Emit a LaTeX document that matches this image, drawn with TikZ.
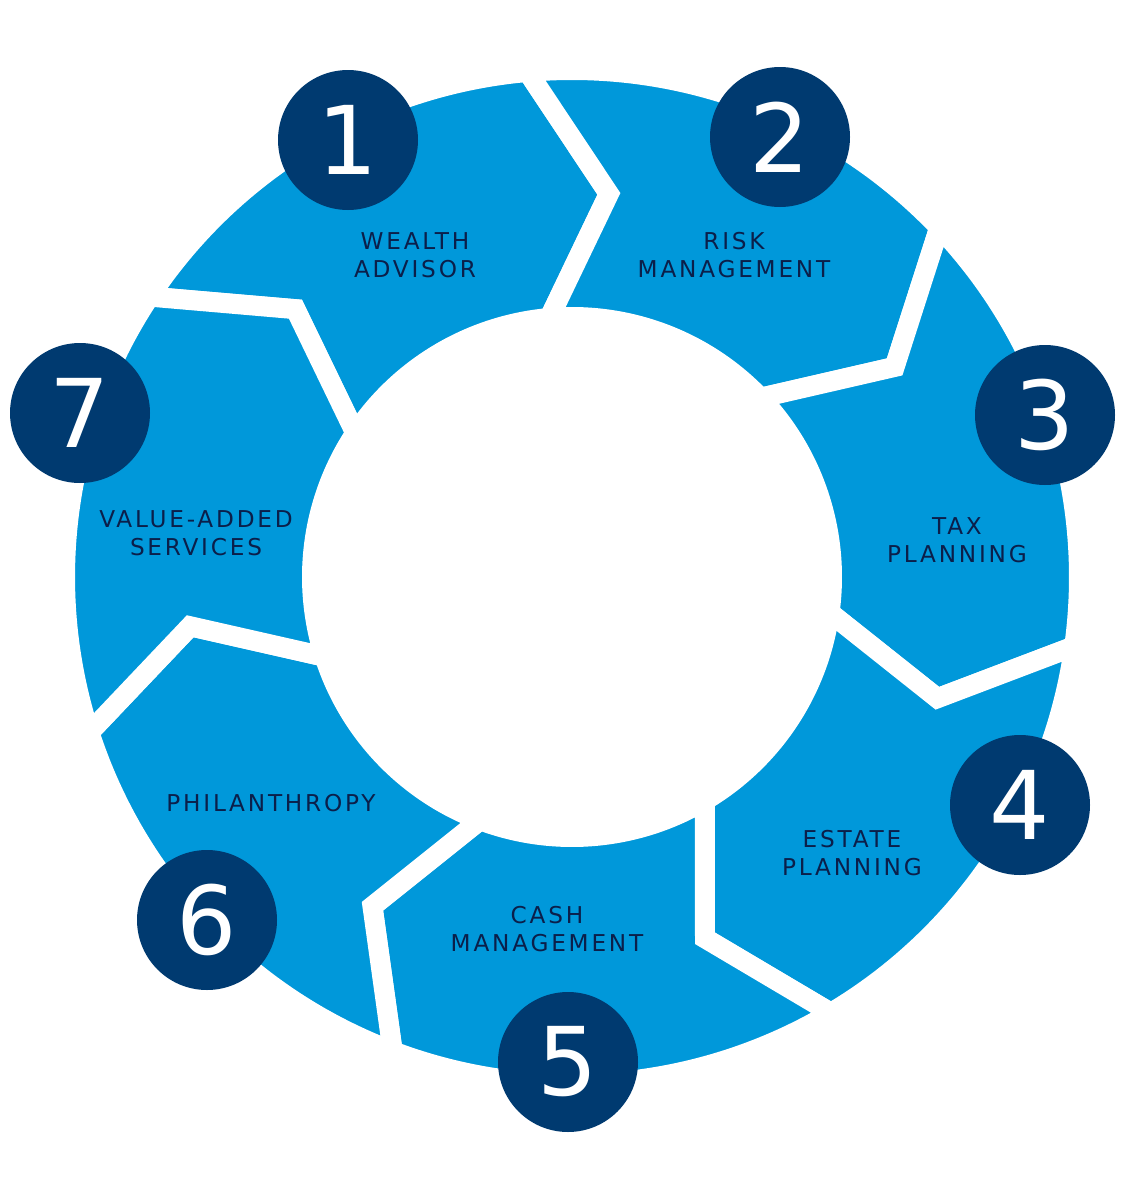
\documentclass[tikz,border=0pt]{standalone}
\usepackage{fontspec}
\setmainfont{DejaVu Sans}
\newfontfamily\spaced[LetterSpace=12]{DejaVu Sans}
\usetikzlibrary{positioning}
\definecolor{ringblue}{HTML}{0098DA}
\definecolor{navy}{HTML}{003A70}
\definecolor{labeltext}{HTML}{0B1F4A}

\begin{document}
\begin{tikzpicture}[
    segment/.style={
        fill=ringblue,
        draw=white,
        line width=0.2cm,
        line join=miter
    },
    number/.style={
        circle,
        fill=navy,
        minimum size=1.4cm,
        inner sep=0pt,
        text=white,
        font=\fontsize{27}{27}\selectfont
    },
    steplabel/.style={
        align=center,
        text=labeltext,
        font=\spaced\fontsize{6.6}{8}\selectfont
    }
]

\useasboundingbox (0,0) rectangle (11.25,-11.92);

% Ring of chevron segments
\begin{scope}[shift={(5.72,-5.77)}]
\foreach \i in {0,...,6} {
    \pgfmathsetmacro{\a}{141.43-51.43*\i}
    \pgfmathsetmacro{\b}{\a-51.43}
    \filldraw[segment] (\a+5:5.07) arc[start angle=\a+5, end angle=\b+5, radius=5.07]
        -- (\b-5.5:3.85) -- (\b+5:2.6)
        arc[start angle=\b+5, end angle=\a+5, radius=2.6]
        -- (\a-5.5:3.85) -- cycle;
}
\end{scope}

% Numbered circles
\node[number] (n1) at (3.48,-1.40) {1};
\node[number] (n2) at (7.80,-1.37) {2};
\node[number] (n3) at (10.45,-4.15) {3};
\node[number] (n4) at (10.20,-8.05) {4};
\node[number] (n5) at (5.68,-10.62) {5};
\node[number] (n6) at (2.07,-9.20) {6};
\node[number] (n7) at (0.80,-4.13) {7};

% Step labels
\node[steplabel] (wealth) at (4.15,-2.55) {WEALTH\\ADVISOR};
\node[steplabel] (risk) at (7.34,-2.55) {RISK\\MANAGEMENT};
\node[steplabel] (tax) at (9.57,-5.40) {TAX\\PLANNING};
\node[steplabel] (estate) at (8.52,-8.53) {ESTATE\\PLANNING};
\node[steplabel] (cash) at (5.47,-9.29) {CASH\\MANAGEMENT};
\node[steplabel] (phil) at (2.71,-8.03) {PHILANTHROPY};
\node[steplabel] (value) at (1.96,-5.33) {VALUE-ADDED\\SERVICES};

\end{tikzpicture}
\end{document}
